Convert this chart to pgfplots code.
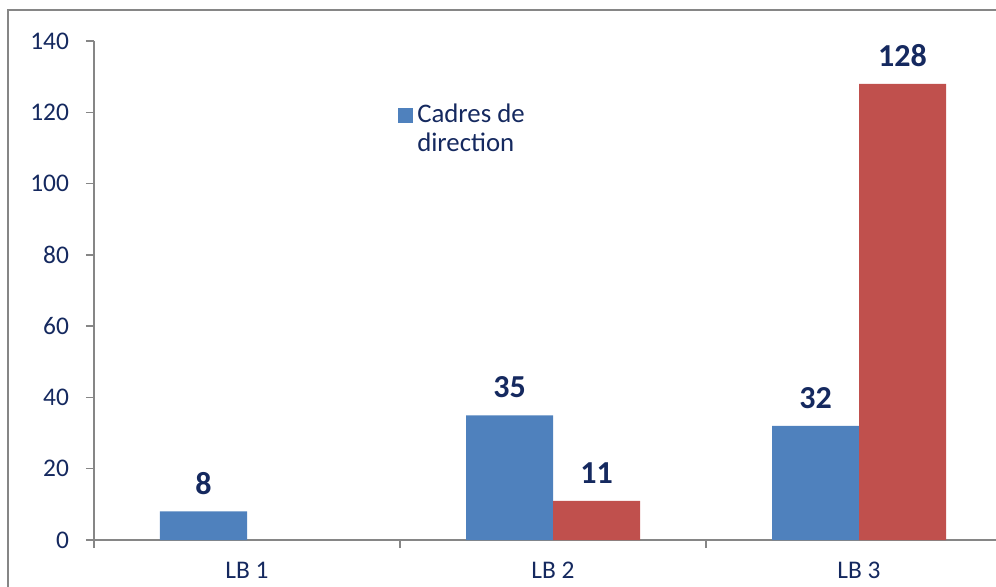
\documentclass[border=0pt]{standalone}
\usepackage{pgfplots}
\pgfplotsset{compat=1.18}
\usepackage{fontspec}
\setmainfont{Carlito}
\definecolor{txt}{HTML}{15295F}
\definecolor{bblue}{HTML}{4F81BD}
\definecolor{bred}{HTML}{C0504D}
\definecolor{axgray}{HTML}{868686}
\begin{document}
\begin{tikzpicture}
\clip (0,0) rectangle (498pt,293pt);
\draw[axgray, line width=0.75pt] (4pt,-20pt) rectangle (520pt,288pt);
\begin{axis}[
  at={(47pt,23pt)}, anchor=south west,
  scale only axis, width=459pt, height=249.5pt,
  xmin=-0.5, xmax=2.5, ymin=0, ymax=140,
  axis x line*=bottom, axis y line*=left,
  axis line style={axgray, line width=0.75pt},
  ybar=0pt, bar width=43.5pt,
  xtick={0,1,2}, xticklabels={LB 1,LB 2,LB 3},
  major x tick style={draw=none},
  minor xtick={-0.5,0.5,1.5,2.5},
  minor tick length=4pt, major tick length=4pt,
  tick align=outside,
  ytick={0,20,...,140},
  tick style={axgray, line width=0.75pt},
  ticklabel style={font=\fontsize{12.7}{15}\selectfont, text=txt},
  yticklabel style={xshift=-5pt},
  xticklabel style={inner sep=0pt, yshift=-7pt},
  /pgf/number format/assume math mode=true,
  nodes near coords,
  every node near coord/.append style={font=\bfseries\fontsize{16}{18}\selectfont, text=txt, yshift=5pt},
  legend style={draw=none, fill=none, at={(rel axis cs:0.331,0.882)}, anchor=north west,
    font=\fontsize{13.4}{14.5}\selectfont, text=txt, cells={align=left}, inner sep=0pt,
    /tikz/every even column/.append style={column sep=3pt}},
]
\addplot[fill=bblue, draw=none, legend image code/.code={\fill[bblue] (0pt,3.5pt) rectangle (7.5pt,11pt);}]
  coordinates {(0,8) (1,35) (2,32)};
\addlegendentry{Cadres de\\direction}
\addplot[fill=bred, draw=none]
  coordinates {(1,11) (2,128)};
\end{axis}
\end{tikzpicture}
\end{document}
